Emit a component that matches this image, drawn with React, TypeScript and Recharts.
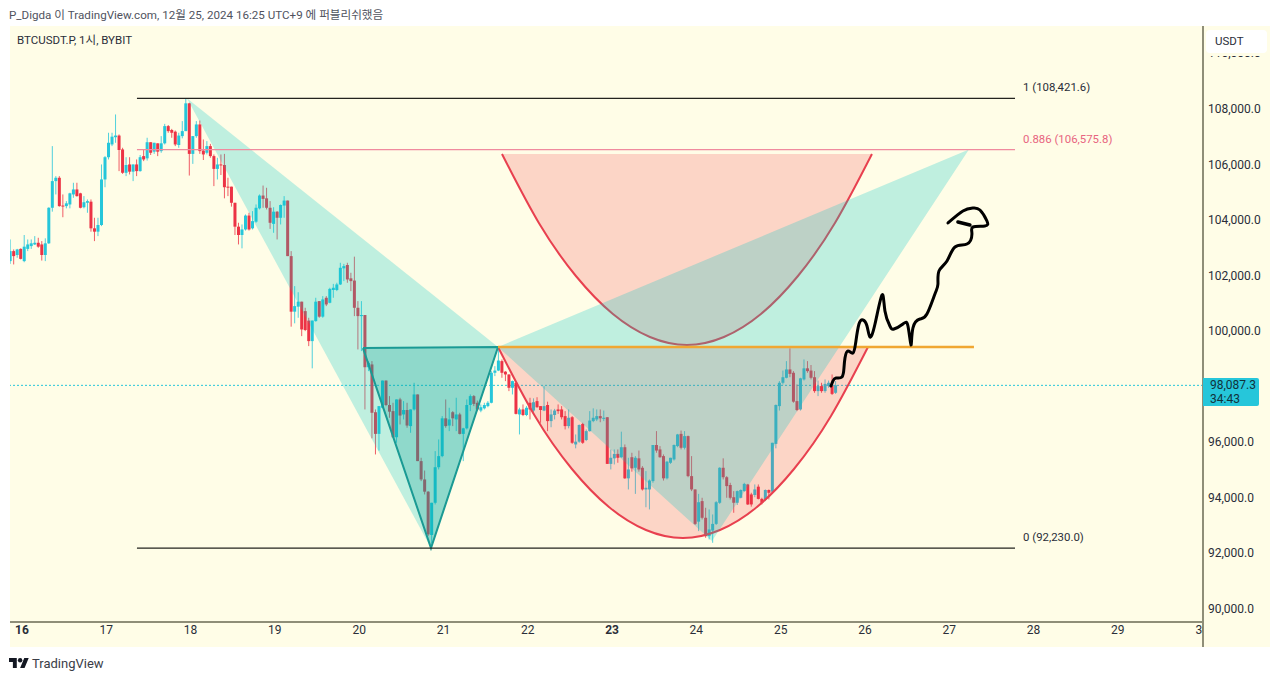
import React from "react";
import { ComposedChart, Bar, Area, Line, XAxis, YAxis, ReferenceLine } from "recharts";

// prices are in thousands of USDT, one candle per hour
const opens = [
  102.56,102.92,102.78,103.0,102.56,103.0,103.1,103.16,103.22,103.16,
  102.78,103.2,104.48,105.44,105.56,104.56,104.54,104.6,104.96,105.14,
  105.0,104.5,104.66,104.7,103.74,103.62,103.86,105.5,106.3,106.76,
  107.02,107.08,106.58,105.74,106.04,105.78,106.04,105.8,106.34,106.26,
  106.84,106.5,106.8,106.52,106.8,107.42,107.28,107.22,106.74,107.06,
  107.24,108.24,106.42,107.06,107.48,106.54,106.46,106.7,106.34,105.88,
  106.04,106.02,105.24,105.24,104.66,103.8,103.5,103.7,104.2,103.74,
  103.98,104.46,104.92,104.82,104.48,103.9,104.34,104.12,104.56,104.74,
  102.74,100.74,100.92,101.1,100.76,100.42,99.68,100.4,101.12,100.56,
  101.24,101.06,101.52,101.52,101.72,102.3,102.42,101.94,101.86,100.88,
  100.58,100.62,98.74,98.84,97.12,96.34,97.28,98.26,97.38,97.16,
  96.22,97.58,97.04,97.2,96.62,97.22,97.76,95.36,94.7,94.26,
  92.7,93.86,95.14,95.54,96.9,96.64,97.12,96.86,97.04,96.34,
  96.54,97.38,97.7,97.46,97.18,97.26,97.34,97.46,98.54,98.62,
  98.96,98.58,98.48,98.0,98.18,97.04,97.22,97.02,97.46,97.18,
  97.52,97.34,97.18,97.38,96.8,97.02,97.22,97.22,96.98,96.62,
  96.94,95.96,96.06,96.7,96.12,96.44,96.8,96.86,96.98,96.88,
  96.94,95.26,95.46,95.62,95.5,95.86,94.74,95.5,95.12,95.46,
  95.12,94.34,94.34,94.64,95.94,95.78,95.54,94.74,95.3,95.42,
  95.9,96.34,95.84,96.26,94.82,94.34,93.18,93.92,93.32,92.66,
  92.86,93.1,93.86,95.12,94.78,94.5,94.06,93.86,94.04,94.28,
  94.52,94.16,94.14,94.44,94.0,93.98,94.32,94.26,95.98,97.34,
  98.18,98.36,98.66,98.54,97.52,97.22,98.3,98.7,98.62,98.38,
  97.88,98.06,97.88,98.06,98.06,97.82,
];
const closes = [
  102.92,102.74,102.98,102.64,103.08,103.16,103.2,103.22,103.08,102.78,
  103.2,104.48,105.44,105.56,104.54,104.54,104.64,105.0,105.14,104.9,
  104.48,104.68,104.72,103.74,103.62,103.86,105.5,106.3,106.82,107.04,
  107.08,106.56,105.74,106.02,105.78,106.04,105.8,106.3,106.22,106.84,
  106.46,106.82,106.5,106.8,107.42,107.24,107.18,106.76,107.08,107.24,
  108.24,106.42,107.06,107.48,106.52,106.4,106.7,106.34,105.88,106.04,
  106.02,105.22,105.22,104.66,103.8,103.5,103.7,104.2,103.7,104.0,
  104.48,104.92,104.8,104.48,103.94,104.34,104.12,104.58,104.74,102.74,
  100.74,100.94,101.1,100.1,100.08,99.68,100.42,101.1,100.56,101.18,
  101.0,101.56,101.6,101.72,102.32,102.38,101.9,101.84,100.88,100.58,
  100.62,98.74,98.9,97.1,96.34,97.34,98.26,97.38,97.14,96.22,
  97.58,97.0,97.2,96.64,97.22,97.76,95.36,94.7,94.26,92.72,
  93.86,95.14,95.54,96.9,96.62,96.86,96.9,97.04,96.34,96.54,
  97.38,97.7,97.42,97.22,97.3,97.38,97.46,98.54,98.62,98.98,
  98.54,98.48,98.0,98.24,97.06,97.22,97.02,97.28,97.22,97.48,
  97.3,97.2,97.34,96.8,97.04,97.18,97.16,96.94,96.62,96.92,
  96.02,96.06,96.66,96.02,96.44,96.82,96.92,96.98,96.9,96.92,
  95.26,95.48,95.62,95.48,95.86,94.74,95.06,95.1,95.48,95.06,
  94.34,94.4,94.66,95.94,95.74,95.5,94.74,95.34,95.48,95.94,
  96.32,95.84,96.26,94.82,94.34,93.1,93.88,93.32,92.66,92.9,
  93.1,93.88,95.12,94.78,94.46,94.04,93.86,94.28,94.32,94.54,
  93.8,93.8,94.34,94.0,93.86,94.32,94.22,96.02,97.38,98.18,
  98.38,98.66,98.5,97.5,97.2,98.34,98.7,98.6,98.36,97.88,
  98.06,97.88,98.14,98.18,97.78,98.09,
];
const highs = [
  103.34,102.98,103.0,103.02,103.5,103.34,103.34,103.46,103.4,103.28,
  103.38,104.5,106.7,105.62,105.62,104.96,104.72,105.02,105.38,105.38,
  105.02,104.9,104.78,104.78,104.12,104.12,106.04,106.34,107.18,107.18,
  107.84,107.12,106.64,106.3,106.3,106.04,106.22,106.38,106.58,107.0,
  106.84,106.82,106.8,107.06,107.5,107.46,107.32,107.26,107.18,107.6,
  108.42,108.26,107.06,107.6,107.62,106.94,106.88,106.78,106.4,106.28,
  106.4,106.42,105.56,105.24,104.66,103.94,103.88,104.24,104.3,104.36,
  104.6,104.96,105.28,105.2,104.72,104.5,104.36,104.6,104.9,104.74,
  102.92,101.66,101.44,101.1,100.88,100.52,100.42,101.24,101.12,101.3,
  101.3,101.6,101.74,101.78,102.5,102.46,102.5,102.14,102.72,101.12,
  101.12,100.62,98.96,98.96,97.22,97.34,98.26,98.26,97.7,97.46,
  97.58,97.64,97.52,97.46,97.22,98.18,97.76,95.48,95.02,94.28,
  93.86,95.72,96.14,96.98,97.58,97.28,97.16,97.64,97.1,96.56,
  97.58,97.76,97.74,97.54,97.4,97.46,97.52,98.6,98.78,99.38,
  99.02,98.6,98.48,98.26,98.18,97.28,97.4,97.34,97.64,97.62,
  97.66,97.34,98.06,97.5,97.22,97.24,97.4,97.34,97.16,97.22,
  96.98,96.32,96.68,96.74,96.5,97.16,97.26,97.22,97.22,97.18,
  96.94,95.78,95.78,95.78,96.42,95.96,95.48,95.66,95.54,95.74,
  95.18,95.0,94.7,95.94,96.44,95.9,95.6,95.36,95.48,95.96,
  96.34,96.46,96.44,96.28,95.54,94.34,94.18,94.04,93.68,93.62,
  93.44,93.92,95.14,95.46,94.82,94.58,94.28,94.3,94.34,94.58,
  94.54,94.22,94.52,94.52,94.04,94.34,94.34,96.02,97.4,98.24,
  98.62,98.96,99.42,98.6,98.12,98.36,99.02,98.96,98.82,98.6,
  98.26,98.18,98.3,98.26,98.48,98.24,
];
const lows = [
  102.46,102.44,102.68,102.62,102.52,102.92,103.0,103.14,103.04,102.58,
  102.56,103.18,104.34,104.96,104.52,104.14,104.46,104.46,104.84,104.88,
  104.46,104.46,104.3,103.62,103.28,103.46,103.82,105.22,106.22,106.7,
  106.82,105.8,105.7,105.62,105.68,105.44,105.62,105.78,106.16,106.18,
  106.38,106.42,106.34,106.46,106.76,107.18,107.0,106.7,106.64,106.98,
  107.24,105.64,106.06,107.0,106.42,106.2,106.4,106.28,105.26,105.5,
  105.66,104.82,104.9,104.52,103.5,103.16,103.02,103.66,103.66,103.7,
  103.94,104.42,104.48,104.42,103.72,103.58,103.34,103.88,104.12,102.74,
  100.2,100.32,100.52,99.86,100.04,99.5,98.7,100.38,100.52,100.52,
  100.94,101.04,101.24,101.48,101.7,101.84,101.78,101.48,100.58,99.38,
  99.32,97.22,98.6,96.18,95.6,95.74,97.26,97.34,96.92,96.2,
  96.02,96.68,96.86,96.56,96.38,97.18,95.36,94.64,94.16,92.66,
  92.4,93.8,95.06,95.5,96.56,96.44,96.62,96.44,96.32,95.36,
  96.5,97.16,97.34,97.16,97.12,97.22,97.3,97.44,98.42,98.6,
  98.36,98.24,97.88,97.76,97.04,96.32,96.98,96.98,96.86,97.12,
  97.28,96.74,97.16,96.44,96.58,96.86,97.06,96.86,96.5,96.54,
  95.98,95.82,96.02,95.98,96.08,96.42,96.76,96.8,96.76,96.8,
  95.26,95.06,95.24,95.3,95.48,94.72,94.34,94.98,94.18,94.98,
  94.3,93.7,93.62,94.58,95.66,95.48,94.66,94.7,95.26,95.38,
  95.86,95.78,95.78,94.78,94.28,93.06,92.84,93.26,92.6,92.54,
  92.42,93.06,93.82,94.7,94.04,93.98,93.5,93.78,94.02,94.26,
  93.78,93.72,94.06,93.98,93.8,93.92,93.98,94.22,95.82,97.18,
  98.12,98.34,98.38,97.46,97.16,97.18,98.26,98.54,98.3,97.82,
  97.7,97.82,97.82,98.0,97.74,97.78,
];

const dayTicks = [16, 17, 18, 19, 20, 21, 22, 23, 24, 25, 26, 27, 28, 29, 30];
const boldDays = [16, 23];
// 98,000 sits behind the last price box in the reference, so it is left out
const priceTicks = [90, 92, 94, 96, 100, 102, 104, 106, 108, 110];
const lastPrice = 98.0873;

// drawing tools on the chart: [day, price] in reading order
const fibOne: [number, number][] = [[17.364, 108.4216], [27.78, 108.4216]];
const fibPink: [number, number][] = [[17.364, 106.5758], [27.78, 106.5758]];
const fibZero: [number, number][] = [[17.364, 92.23], [27.78, 92.23]];
const orangeLine: [number, number][] = [[21.647, 99.47], [27.293, 99.47]];

// [day, low edge, high edge]
const bigLeft: [number, number, number][] = [[17.957, 108.42, 108.42], [20.852, 92.23, 101.4], [21.647, 99.47, 99.47]];
const bigRight: [number, number, number][] = [[21.647, 99.47, 99.47], [24.185, 92.48, 102.7], [27.233, 106.58, 106.58]];
const innerTriangle: [number, number, number][] = [[20.045, 99.43, 99.43], [20.852, 92.23, 99.45], [21.647, 99.47, 99.47]];
const innerOutline: [number, number][] = [[20.045, 99.43], [20.852, 92.23], [21.647, 99.47], [20.045, 99.43]];

const lowerArc: [number, number][] = [
  [21.647, 99.468], [22.085, 96.984], [22.524, 95.076], [22.963, 93.708], [23.402, 92.88], [23.841, 92.592],
  [24.28, 92.88], [24.719, 93.708], [25.158, 95.076], [25.597, 96.984], [26.036, 99.468],
];
const upperArc: [number, number][] = [
  [21.694, 106.416], [22.132, 103.932], [22.571, 102.024], [23.01, 100.656], [23.449, 99.828], [23.888, 99.54],
  [24.327, 99.828], [24.766, 100.656], [25.205, 102.024], [25.644, 103.932], [26.083, 106.416],
];

const scribble: [number, number][] = [
  [25.597, 98.064], [25.62, 98.244], [25.656, 98.352], [25.727, 98.388], [25.751, 98.712], [25.763, 99.072],
  [25.798, 99.324], [25.858, 99.252], [25.893, 99.684], [25.929, 100.296], [25.976, 100.44], [26.024, 100.224],
  [26.059, 99.828], [26.119, 100.296], [26.202, 101.34], [26.237, 100.764], [26.296, 100.224], [26.344, 100.116],
  [26.451, 100.296], [26.51, 100.224], [26.546, 99.54], [26.569, 100.152], [26.652, 100.476], [26.735, 100.656],
  [26.83, 101.376], [26.866, 101.736], [26.878, 102.204], [26.973, 102.564], [27.068, 103.068], [27.21, 103.176],
  [27.269, 103.536], [27.281, 103.788], [27.423, 103.824], [27.447, 104.004], [27.364, 104.4], [27.281, 104.472],
  [27.162, 104.364], [26.985, 103.932],
];
const scribbleDot: [number, number][] = [[27.103, 103.968], [27.245, 103.86]];

const UP = "#26c6da";
const DOWN = "#ec3345";
const TEAL_FILL = "rgba(0,200,200,0.25)";
const INNER_FILL = "rgba(0,150,145,0.25)";
const PINK_FILL = "rgba(242,54,69,0.2)";
const FONT = "Roboto, 'Noto Sans CJK KR', sans-serif";
const BODY_WIDTH = 3;

const candles = opens.map((o, i) => ({
  day: 15.86 + i / 24,
  o,
  c: closes[i],
  range: [lows[i], highs[i]],
}));

const toLine = (pts: [number, number][]) => pts.map(([day, p]) => ({ day, p }));
const toBand = (pts: [number, number, number][]) => pts.map(([day, lo, hi]) => ({ day, band: [lo, hi] }));
const arcBand = (pts: [number, number][], top: number) => pts.map(([day, p]) => ({ day, band: [p, top] }));

const Candle = (props: any) => {
  const { x, y, width, height, payload } = props;
  const [lo, hi] = payload.range;
  const color = payload.c >= payload.o ? UP : DOWN;
  const perUnit = hi > lo ? height / (hi - lo) : 0;
  const top = y + (hi - Math.max(payload.o, payload.c)) * perUnit;
  const bodyH = Math.max(Math.abs(payload.o - payload.c) * perUnit, 1);
  const cx = x + width / 2;
  return (
    <g>
      <line x1={cx} x2={cx} y1={y} y2={y + height} stroke={color} strokeWidth={1} strokeOpacity={0.8} />
      <rect x={cx - BODY_WIDTH / 2} y={top} width={BODY_WIDTH} height={bodyH} fill={color} />
    </g>
  );
};

const DayTick = ({ x, y, payload }: any) => (
  <text
    x={x}
    y={y + 4}
    textAnchor="middle"
    clipPath="url(#xAxisClip)"
    fontFamily={FONT}
    fontSize={12}
    fontWeight={boldDays.includes(payload.value) ? 700 : 400}
    fill="#2a2e39"
  >
    {payload.value}
  </text>
);

const PriceTick = ({ x, y, payload }: any) => (
  <text x={x} y={y + 3} textAnchor="start" fontFamily={FONT} fontSize={12} fill="#2a2e39">
    {(payload.value * 1000).toLocaleString("en-US") + ".0"}
  </text>
);

const fibLabel = (text: string, color: string) => (props: any) => {
  const { x, y, index } = props;
  if (index !== 1) return null;
  return (
    <text x={x + 8} y={y - 7} fontFamily={FONT} fontSize={11.4} fill={color}>
      {text}
    </text>
  );
};

export default function App() {
  return (
    <div style={{ position: "absolute", left: 0, top: 0, width: 1280, height: 681, background: "#fff", overflow: "hidden", fontFamily: FONT }}>
      <div style={{ position: "absolute", left: 9, top: 6, fontSize: 11.62, color: "#50535e", whiteSpace: "nowrap" }}>
        P_Digda 이 TradingView.com, 12월 25, 2024 16:25 UTC+9 에 퍼블리쉬했음
      </div>
      <div style={{ position: "absolute", left: 10, top: 26, width: 1260, height: 621, background: "#fffde7" }} />
      <div style={{ position: "absolute", left: 1202, top: 622, width: 2, height: 25, background: "#8f8e78" }} />

      <div style={{ position: "absolute", left: 0, top: 0 }}>
        <ComposedChart
          width={1280}
          height={681}
          data={candles}
          margin={{ top: 26, right: 10, bottom: 34, left: 10 }}
        >
          <defs>
            <clipPath id="xAxisClip">
              <rect x={0} y={600} width={1203} height={81} />
            </clipPath>
          </defs>
          <XAxis
            dataKey="day"
            type="number"
            domain={[15.858, 30.01]}
            allowDataOverflow
            ticks={dayTicks}
            interval={0}
            height={25}
            tickLine={false}
            tick={<DayTick />}
            axisLine={{ stroke: "#8f8e78", strokeWidth: 2 }}
          />
          <YAxis
            orientation="right"
            type="number"
            domain={[89.568, 111.024]}
            allowDataOverflow
            ticks={priceTicks}
            interval={0}
            width={67}
            tickLine={false}
            tickSize={0}
            tickMargin={5}
            tick={<PriceTick />}
            axisLine={{ stroke: "#8f8e78", strokeWidth: 2 }}
          />

          <ReferenceLine y={lastPrice} stroke={UP} strokeDasharray="2 2" strokeWidth={1} zIndex={250} />
          <Bar dataKey="range" barSize={3} shape={<Candle />} isAnimationActive={false} zIndex={300} />

          <Area data={arcBand(lowerArc, 99.468)} dataKey="band" type="natural" stroke="none" fill={PINK_FILL} fillOpacity={1} dot={false} activeDot={false} isAnimationActive={false} zIndex={310} />
          <Area data={arcBand(upperArc, 106.416)} dataKey="band" type="natural" stroke="none" fill={PINK_FILL} fillOpacity={1} dot={false} activeDot={false} isAnimationActive={false} zIndex={310} />
          <Line data={toLine(lowerArc)} dataKey="p" type="natural" stroke="#e8404f" strokeWidth={2} dot={false} activeDot={false} isAnimationActive={false} zIndex={320} />
          <Line data={toLine(upperArc)} dataKey="p" type="natural" stroke="#e8404f" strokeWidth={2} dot={false} activeDot={false} isAnimationActive={false} zIndex={320} />

          <Area data={toBand(bigLeft)} dataKey="band" type="linear" stroke="none" fill={TEAL_FILL} fillOpacity={1} dot={false} activeDot={false} isAnimationActive={false} zIndex={330} />
          <Area data={toBand(bigRight)} dataKey="band" type="linear" stroke="none" fill={TEAL_FILL} fillOpacity={1} dot={false} activeDot={false} isAnimationActive={false} zIndex={330} />
          <Area data={toBand(innerTriangle)} dataKey="band" type="linear" stroke="none" fill={INNER_FILL} fillOpacity={1} dot={false} activeDot={false} isAnimationActive={false} zIndex={330} />
          <Line data={toLine(innerOutline)} dataKey="p" type="linear" stroke="#1a9a94" strokeWidth={2} dot={false} activeDot={false} isAnimationActive={false} zIndex={340} />

          <Line data={toLine(fibOne)} dataKey="p" stroke="#23231f" strokeWidth={1.3} dot={false} activeDot={false} label={fibLabel("1 (108,421.6)", "#2a2e39")} isAnimationActive={false} zIndex={350} />
          <Line data={toLine(fibPink)} dataKey="p" stroke="#f08a9e" strokeWidth={1.3} dot={false} activeDot={false} label={fibLabel("0.886 (106,575.8)", "#e8647f")} isAnimationActive={false} zIndex={350} />
          <Line data={toLine(fibZero)} dataKey="p" stroke="#23231f" strokeWidth={1.3} dot={false} activeDot={false} label={fibLabel("0 (92,230.0)", "#2a2e39")} isAnimationActive={false} zIndex={350} />
          <Line data={toLine(orangeLine)} dataKey="p" stroke="#f0a732" strokeWidth={2.5} dot={false} activeDot={false} isAnimationActive={false} zIndex={350} />

          <Line data={toLine(scribble)} dataKey="p" type="natural" stroke="#000" strokeWidth={3} strokeLinejoin="round" strokeLinecap="round" dot={false} activeDot={false} isAnimationActive={false} zIndex={360} />
          <Line data={toLine(scribbleDot)} dataKey="p" type="linear" stroke="#000" strokeWidth={3.5} strokeLinecap="round" dot={false} activeDot={false} isAnimationActive={false} zIndex={360} />
        </ComposedChart>
      </div>

      <div style={{ position: "absolute", left: 17, top: 31, fontSize: 11.5, color: "#2a2e39", whiteSpace: "nowrap" }}>BTCUSDT.P, 1시, BYBIT</div>
      <div style={{ position: "absolute", left: 1206, top: 30, width: 61, height: 23, background: "#fff", borderRadius: 4, fontSize: 11.5, lineHeight: "23px", color: "#2a2e39", paddingLeft: 9, boxSizing: "border-box" }}>USDT</div>
      <div style={{ position: "absolute", left: 1206, top: 53, width: 61, height: 3, background: "#fffde7" }} />
      <div style={{ position: "absolute", left: 1203, top: 378, width: 56, height: 28, background: UP, borderRadius: "0 2px 2px 0", fontSize: 12, lineHeight: "13.5px", color: "#11323a", paddingLeft: 7, boxSizing: "border-box", paddingTop: 1 }}>
        98,087.3
        <br />
        34:43
      </div>

      <svg style={{ position: "absolute", left: 9, top: 657 }} width={20} height={12} viewBox="0 3 36 20">
        <path d="M14 22H7V11H0V4h14v18zM28 22h-8l7.5-18h8L28 22z" fill="#131722" />
        <circle cx={20} cy={8} r={4} fill="#131722" />
      </svg>
      <div style={{ position: "absolute", left: 32, top: 656, fontSize: 13, color: "#3a3d47", whiteSpace: "nowrap" }}>TradingView</div>
    </div>
  );
}
